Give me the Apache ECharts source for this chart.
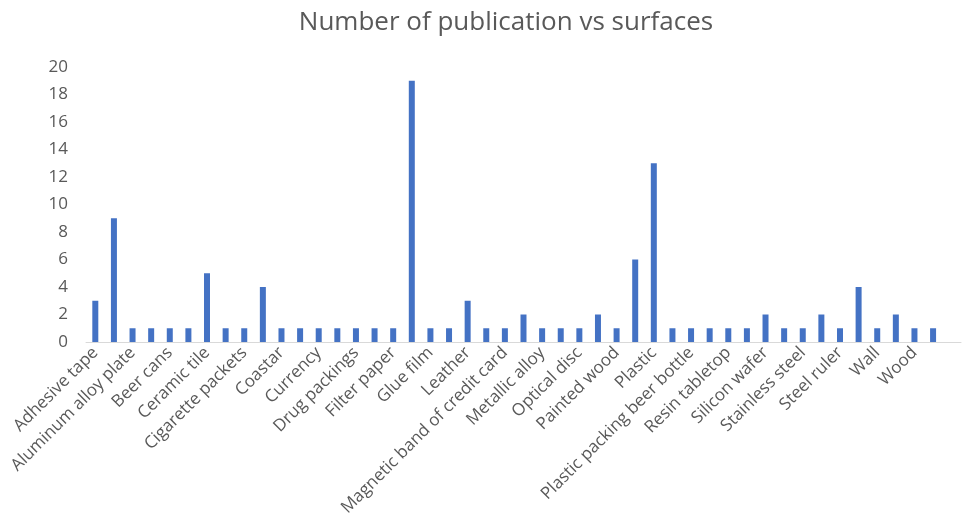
<!DOCTYPE html>
<html>
<head>
<meta charset="utf-8">
<script src="https://cdn.jsdelivr.net/npm/echarts@6/dist/echarts.min.js"></script>
<style>
  html, body { margin: 0; padding: 0; background: #fff; }
  #chart { width: 966px; height: 529px; }
</style>
</head>
<body>
<div id="chart"></div>
<script>
// only every other label is printed in the source chart; unread names left blank
var surfaces = [
  'Adhesive tape', '', 'Aluminum alloy plate', '', 'Beer cans', '',
  'Ceramic tile', '', 'Cigarette packets', '', 'Coastar', '',
  'Currency', '', 'Drug packings', '', 'Filter paper', '',
  'Glue film', '', 'Leather', '', 'Magnetic band of credit card', '',
  'Metallic alloy', '', 'Optical disc', '', 'Painted wood', '',
  'Plastic', '', 'Plastic packing beer bottle', '', 'Resin tabletop', '',
  'Silicon wafer', '', 'Stainless steel', '', 'Steel ruler', '',
  'Wall', '', 'Wood', '', ''
];
var publications = [
  3, 9, 1, 1, 1, 1, 5, 1, 1, 4, 1, 1, 1,
  1, 1, 1, 1, 19, 1, 1, 3, 1, 1, 2, 1, 1, 1, 2, 1, 6,
  13, 1, 1, 1, 1, 1, 2, 1, 1, 2, 1, 4, 1, 2, 1, 1, null
];
var yTicks = { min: 0, max: 20, step: 2 };

var chart = echarts.init(document.getElementById('chart'));
var txt = '#595959';
chart.setOption({
  animation: false,
  title: {
    text: 'Number of publication vs surfaces',
    left: 501,
    top: 5,
    textAlign: 'center',
    textStyle: {
      fontFamily: 'Open Sans',
      fontSize: 26,
      fontWeight: 'normal',
      color: txt
    }
  },
  grid: {
    left: 86,
    right: 5,
    top: 67,
    bottom: 187
  },
  xAxis: {
    type: 'category',
    data: surfaces,
    axisLine: { lineStyle: { color: '#d9d9d9', width: 1 } },
    axisTick: { show: false },
    axisLabel: {
      interval: 0,
      rotate: 45,
      margin: 8,
      fontFamily: 'Open Sans',
      fontSize: 17,
      color: txt
    }
  },
  yAxis: {
    type: 'value',
    min: yTicks.min,
    max: yTicks.max,
    interval: yTicks.step,
    splitLine: { show: false },
    axisLine: { show: false },
    axisTick: { show: false },
    axisLabel: {
      margin: 18,
      fontFamily: 'Open Sans',
      fontSize: 17,
      color: txt
    }
  },
  series: [
    {
      name: 'Number of publication',
      type: 'bar',
      data: publications,
      barWidth: 6,
      itemStyle: { color: '#4472c4' }
    }
  ]
});
</script>
</body>
</html>
